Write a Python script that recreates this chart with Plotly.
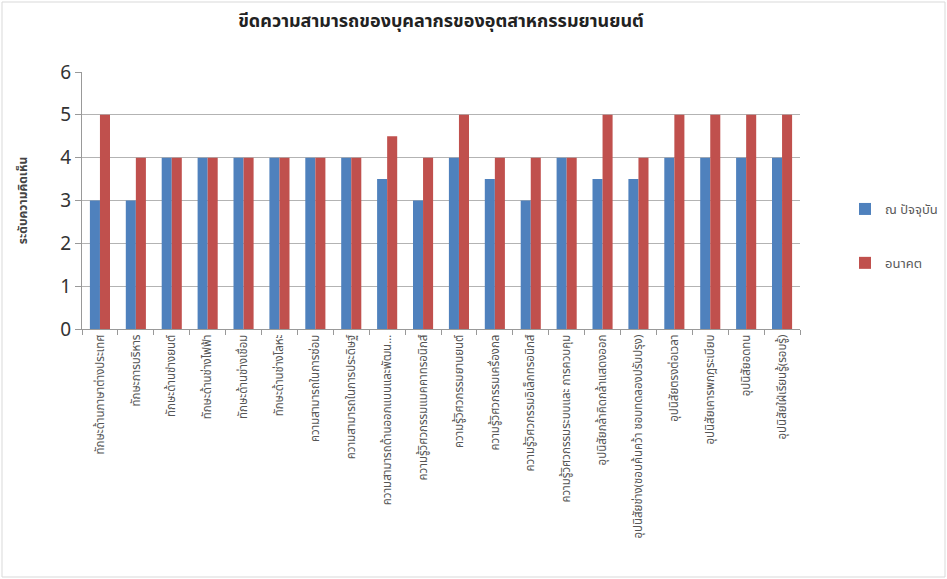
import plotly.graph_objects as go

categories = [
    "ทักษะด้านภาษาต่างประเทศ",
    "ทักษะการบริหาร",
    "ทักษะด้านช่างยนต์",
    "ทักษะด้านช่างไฟฟ้า",
    "ทักษะด้านช่างเชื่อม",
    "ทักษะด้านช่างโลหะ",
    "ความสามารถในการซ่อม",
    "ความสามารถในการประดิษฐ์",
    "ความสามารถด้านออกแบบและพัฒน...",
    "ความรู้วิศวกรรมแมคคาทรอนิกส์",
    "ความรู้วิศวกรรมยานยนต์",
    "ความรู้วิศวกรรมเครื่องกล",
    "ความรู้วิศวกรรมอิเล็กทรอนิกส์",
    "ความรู้วิศวกรรมระบบและ การควบคุม",
    "อุปนิสัยกล้าคิดกล้าแสดงออก",
    "อุปนิสัยช่าง(ชอบค้นคว้า ชอบทดลองปรับปรุง)",
    "อุปนิสัยตรงต่อเวลา",
    "อุปนิสัยเคารพกฎระเบียบ",
    "อุปนิสัยอดทน",
    "อุปนิสัยใฝ่เรียนรู้(รอบรู้)",
]
current = [3, 3, 4, 4, 4, 4, 4, 4, 3.5, 3, 4, 3.5, 3, 4, 3.5, 3.5, 4, 4, 4, 4]
future = [5, 4, 4, 4, 4, 4, 4, 4, 4.5, 4, 5, 4, 4, 4, 5, 4, 5, 5, 5, 5]

title = "ขีดความสามารถของบุคลากรของอุตสาหกรรมยานยนต์"
y_title = "ระดับความคิดเห็น"
series_names = ["ณ ปัจจุบัน", "อนาคต"]
colors = ["#4F81BD", "#C0504D"]

W, H = 947, 579
ml, mr, mt, mb = 82, 147, 72, 250
pw, ph = W - ml - mr, H - mt - mb

fig = go.Figure()
for i, (name, vals) in enumerate(zip(series_names, [current, future])):
    fig.add_trace(go.Bar(
        x=categories, y=vals, name=name, marker_color=colors[i],
        marker_line_width=0, legendgroup=str(i),
    ))

font_family = "Noto Sans, Noto Sans Thai, Tahoma, sans-serif"

fig.update_layout(
    width=W, height=H,
    margin=dict(l=ml, r=mr, t=mt, b=mb, autoexpand=False),
    paper_bgcolor="white", plot_bgcolor="white",
    barmode="group", bargap=0.44, bargroupgap=0,
    font=dict(family=font_family, color="#595959"),
    title=dict(text="<b>" + title + "</b>", x=0.5, xref="paper",
               xanchor="center", y=0.965, yanchor="middle",
               font=dict(size=18, color="#222222")),
    showlegend=True,
    legend=dict(x=(845 - ml) / pw, y=(329 - 194) / ph, xanchor="left",
                yanchor="top", tracegroupgap=34,
                font=dict(size=13, color="#595959"),
                itemwidth=30),
    xaxis=dict(
        type="category", tickangle=-90, tickson="boundaries",
        ticks="outside", ticklen=5, tickcolor="#999999",
        showline=True, linecolor="#999999", linewidth=1,
        showgrid=False, tickfont=dict(size=11.5, color="#555555"),
    ),
    yaxis=dict(
        range=[0, 6], dtick=1, ticks="outside", ticklen=6,
        tickcolor="#999999", showline=True, linecolor="#999999",
        gridcolor="#B3B3B3", gridwidth=1, zeroline=False,
        tickfont=dict(size=19, color="#333333"),
        title=dict(text="<b>" + y_title + "</b>", standoff=30,
                   font=dict(size=12, color="#444444")),
    ),
)

# Light frame around the whole chart area
fig.add_shape(
    type="rect", xref="paper", yref="paper",
    x0=-(ml - 2) / pw, x1=1 + (mr - 2) / pw,
    y0=-(mb - 2) / ph, y1=1 + (mt - 2) / ph,
    line=dict(color="#D9D9D9", width=1), fillcolor="rgba(0,0,0,0)",
    layer="below",
)

fig.write_html("out.html")
